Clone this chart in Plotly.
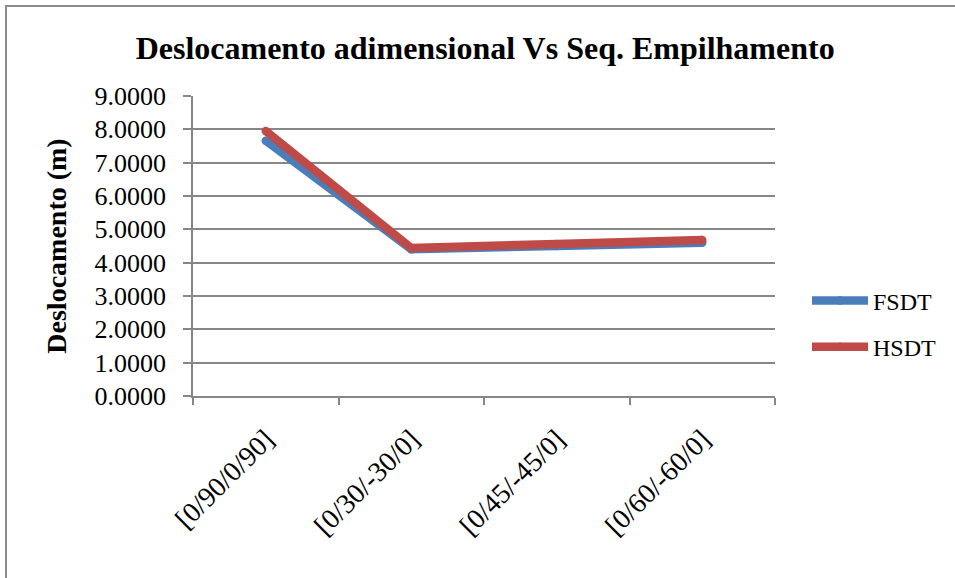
import plotly.graph_objects as go

# Stacking sequences and nondimensional displacement for each theory
sequences = ["[0/90/0/90]", "[0/30/-30/0]", "[0/45/-45/0]", "[0/60/-60/0]"]
fsdt = [7.66, 4.40, 4.50, 4.60]
hsdt = [7.95, 4.44, 4.56, 4.68]
y_ticks = [0, 1, 2, 3, 4, 5, 6, 7, 8, 9]

BLUE = "#4A7EBB"
RED = "#BE4B48"
GRID = "#878787"
SERIF = "Liberation Serif"

fig = go.Figure()
for name, vals, color in [("FSDT", fsdt, BLUE), ("HSDT", hsdt, RED)]:
    fig.add_trace(go.Scatter(
        x=sequences, y=vals, name=name, mode="lines+markers",
        legendgroup=name,
        line=dict(color=color, width=8.5),
        marker=dict(color=color, size=8.5),
    ))

# outer chart frame
fig.add_shape(type="rect", xref="paper", yref="paper",
              x0=-(193 - 6) / 582, x1=(960 - 193) / 582,
              y0=-0.7, y1=(396 - 6) / 300,
              line=dict(color="#8c8c8c", width=2), layer="below")

fig.update_layout(
    width=955, height=578,
    margin=dict(l=193, r=180, t=96, b=182),
    paper_bgcolor="white", plot_bgcolor="white",
    title=dict(text="<b>Deslocamento adimensional Vs Seq. Empilhamento</b>",
               x=0.508, xanchor="center", y=1 - 48 / 578, yanchor="middle",
               yref="container",
               font=dict(family=SERIF, size=32, color="black")),
    xaxis=dict(type="category", range=[-0.5, 3.5], tickangle=-45,
               tickson="boundaries", ticks="outside", ticklen=7,
               tickcolor=GRID, tickwidth=1.5,
               showline=True, linecolor=GRID, linewidth=1.5,
               showgrid=False, zeroline=False, ticklabelstandoff=14,
               tickfont=dict(family=SERIF, size=28, color="black")),
    yaxis=dict(range=[0, 9], tickvals=y_ticks, tickformat=".4f",
               ticks="outside", ticklen=8, tickcolor=GRID, tickwidth=1.5,
               showline=True, linecolor=GRID, linewidth=1.5,
               showgrid=True, gridcolor=GRID, gridwidth=1.5,
               zeroline=False, ticklabelstandoff=12,
               tickfont=dict(family=SERIF, size=26, color="black"),
               title=dict(text="<b>Deslocamento (m)</b>", standoff=20,
                          font=dict(family=SERIF, size=28, color="black"))),
    legend=dict(x=(807 - 193) / 582, xanchor="left",
                y=(396 - 324) / 300, yanchor="middle",
                font=dict(family=SERIF, size=24, color="black"),
                itemwidth=56, tracegroupgap=12, bgcolor="rgba(0,0,0,0)"),
    showlegend=True,
)

fig.write_html("out.html")
